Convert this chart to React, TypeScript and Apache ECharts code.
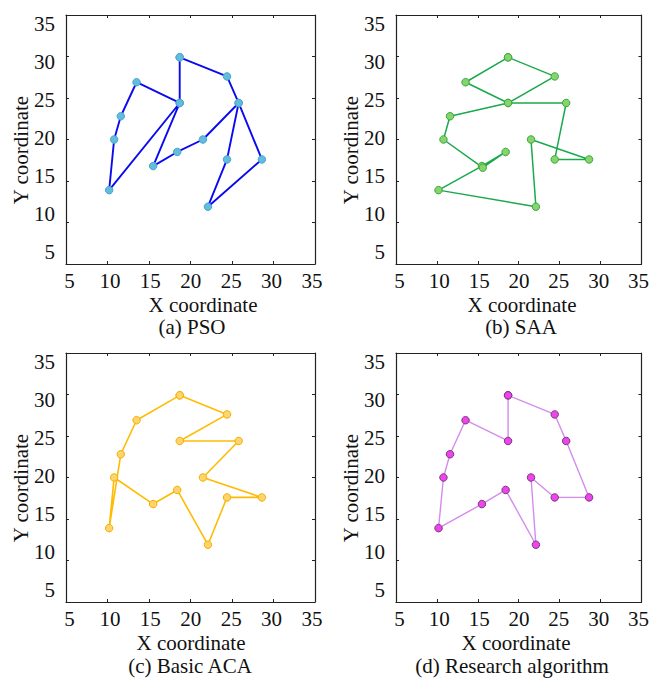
import React, { useEffect, useRef } from "react";
import * as echarts from "echarts";

// ---- data ----
const tickValues = [5, 10, 15, 20, 25, 30, 35];

// (a) PSO route
const psoX = [18.7, 24.4, 25.8, 28.6, 22.1, 24.4, 25.8, 21.5, 18.4, 15.5, 18.7, 10.2, 10.8, 11.6, 13.5, 18.7, 18.7];
const psoY = [29.9, 27.6, 24.4, 17.6, 11.9, 17.6, 24.4, 20.0, 18.5, 16.8, 24.4, 13.9, 20.0, 22.8, 26.9, 24.4, 29.9];

// (b) SAA route
const saaX = [18.7, 24.4, 18.7, 25.8, 24.4, 28.6, 21.5, 22.1, 10.2, 15.5, 18.4, 15.6, 10.8, 11.6, 18.7, 13.5, 18.7];
const saaY = [29.9, 27.6, 24.4, 24.4, 17.6, 17.6, 20.0, 11.9, 13.9, 16.8, 18.5, 16.6, 20.0, 22.8, 24.4, 26.9, 29.9];

// (c) Basic ACA route
const acaX = [18.7, 24.4, 18.7, 25.8, 21.5, 28.6, 24.4, 22.1, 18.4, 15.5, 10.8, 10.2, 11.6, 13.5, 18.7];
const acaY = [29.9, 27.6, 24.4, 24.4, 20.0, 17.6, 17.6, 11.9, 18.5, 16.8, 20.0, 13.9, 22.8, 26.9, 29.9];

// (d) Research algorithm route
const resX = [18.7, 24.4, 25.8, 28.6, 24.4, 21.5, 22.1, 18.4, 15.5, 10.2, 10.8, 11.6, 13.5, 18.7, 18.7];
const resY = [29.9, 27.6, 24.4, 17.6, 17.6, 20.0, 11.9, 18.5, 16.8, 13.9, 20.0, 22.8, 26.9, 24.4, 29.9];

const panelTitles = ["(a) PSO", "(b) SAA", "(c) Basic ACA", "(d) Research algorithm"];
const xName = "X coordinate";
const yName = "Y coordinate";

// ---- styles / layout ----
const FONT = "Liberation Serif";
const FS = 21;
const gridsPos = [
  { left: 66, top: 15 },
  { left: 396, top: 15 },
  { left: 66, top: 353 },
  { left: 396, top: 353 },
];
const SIZE = 249;
const styles = [
  { line: "#0a0af0", fill: "#62bcdc", border: "#48a6cc", width: 1.9 },
  { line: "#1aa94c", fill: "#86d46c", border: "#3aa83e", width: 1.5 },
  { line: "#ffbb00", fill: "#ffd36e", border: "#f2b000", width: 1.6 },
  { line: "#d38cec", fill: "#ee44ee", border: "#7a3a7a", width: 1.4 },
];
const xNamePos = [
  { x: 203, y: 305 },
  { x: 522, y: 305 },
  { x: 191, y: 643 },
  { x: 516, y: 643 },
];
const titlePos = [
  { x: 192, y: 327 },
  { x: 521, y: 327 },
  { x: 190, y: 666 },
  { x: 512, y: 666 },
];
const yNamePos = [
  { x: 21, y: 150 },
  { x: 351, y: 150 },
  { x: 21, y: 488 },
  { x: 351, y: 488 },
];

export default function App() {
  const ref = useRef<HTMLDivElement>(null);
  useEffect(() => {
    if (!ref.current) return;
    const chart = echarts.init(ref.current, null, { renderer: "svg" });
    const routes = [
      [psoX, psoY],
      [saaX, saaY],
      [acaX, acaY],
      [resX, resY],
    ];
    const grid: any[] = [];
    const xAxis: any[] = [];
    const yAxis: any[] = [];
    const series: any[] = [];
    const graphic: any[] = [];
    const frameLine = { show: true, onZero: false, lineStyle: { color: "#222", width: 1.2 } };
    const inTick = { show: true, inside: true, length: 3, lineStyle: { color: "#222", width: 1 } };
    const labelStyle = { fontFamily: FONT, fontSize: FS, color: "#111" };
    const textStyle = (text: string) => ({
      text, fontFamily: FONT, fontSize: FS, fill: "#111", textAlign: "center", textVerticalAlign: "middle",
    });
    routes.forEach((r, g) => {
      grid.push({ left: gridsPos[g].left, top: gridsPos[g].top, width: SIZE, height: SIZE });
      xAxis.push({
        type: "value", gridIndex: g, position: "bottom", min: 5, max: 35, interval: 5,
        axisLine: frameLine, axisTick: inTick, axisLabel: { show: false }, splitLine: { show: false },
      });
      xAxis.push({
        type: "value", gridIndex: g, position: "top", min: 5, max: 35, interval: 5,
        axisLine: frameLine, axisTick: inTick, axisLabel: { show: false }, splitLine: { show: false },
      });
      xAxis.push({
        type: "value", gridIndex: g, position: "bottom", min: 4.567, max: 35.371,
        axisLine: { show: false, onZero: false }, axisTick: { show: false }, splitLine: { show: false },
        axisLabel: { ...labelStyle, margin: 6, customValues: tickValues, showMinLabel: true, showMaxLabel: true },
      });
      yAxis.push({
        type: "value", gridIndex: g, position: "left", min: 5, max: 35, interval: 5,
        axisLine: frameLine, axisTick: inTick, axisLabel: { show: false }, splitLine: { show: false },
      });
      yAxis.push({
        type: "value", gridIndex: g, position: "right", min: 5, max: 35, interval: 5,
        axisLine: frameLine, axisTick: inTick, axisLabel: { show: false }, splitLine: { show: false },
      });
      yAxis.push({
        type: "value", gridIndex: g, position: "left", min: 3.421, max: 36.184,
        axisLine: { show: false, onZero: false }, axisTick: { show: false }, splitLine: { show: false },
        axisLabel: { ...labelStyle, margin: 11, customValues: tickValues, showMinLabel: true, showMaxLabel: true },
      });
      const st = styles[g];
      series.push({
        type: "line",
        xAxisIndex: g * 3,
        yAxisIndex: g * 3,
        data: r[0].map((x, i) => [x, r[1][i]]),
        symbol: "circle",
        symbolSize: 7.5,
        showSymbol: true,
        lineStyle: { color: st.line, width: st.width },
        itemStyle: { color: st.fill, borderColor: st.border, borderWidth: 1 },
      });
      graphic.push({ type: "text", x: xNamePos[g].x, y: xNamePos[g].y, style: textStyle(xName) });
      graphic.push({ type: "text", x: titlePos[g].x, y: titlePos[g].y, style: textStyle(panelTitles[g]) });
      graphic.push({
        type: "text", x: yNamePos[g].x, y: yNamePos[g].y, rotation: Math.PI / 2, style: textStyle(yName),
      });
    });
    chart.setOption({
      animation: false,
      backgroundColor: "#fff",
      grid,
      xAxis,
      yAxis,
      series,
      graphic,
    });
    return () => chart.dispose();
  }, []);
  return (
    <div
      ref={ref}
      style={{ position: "fixed", left: 0, top: 0, width: 652, height: 678 }}
    />
  );
}
